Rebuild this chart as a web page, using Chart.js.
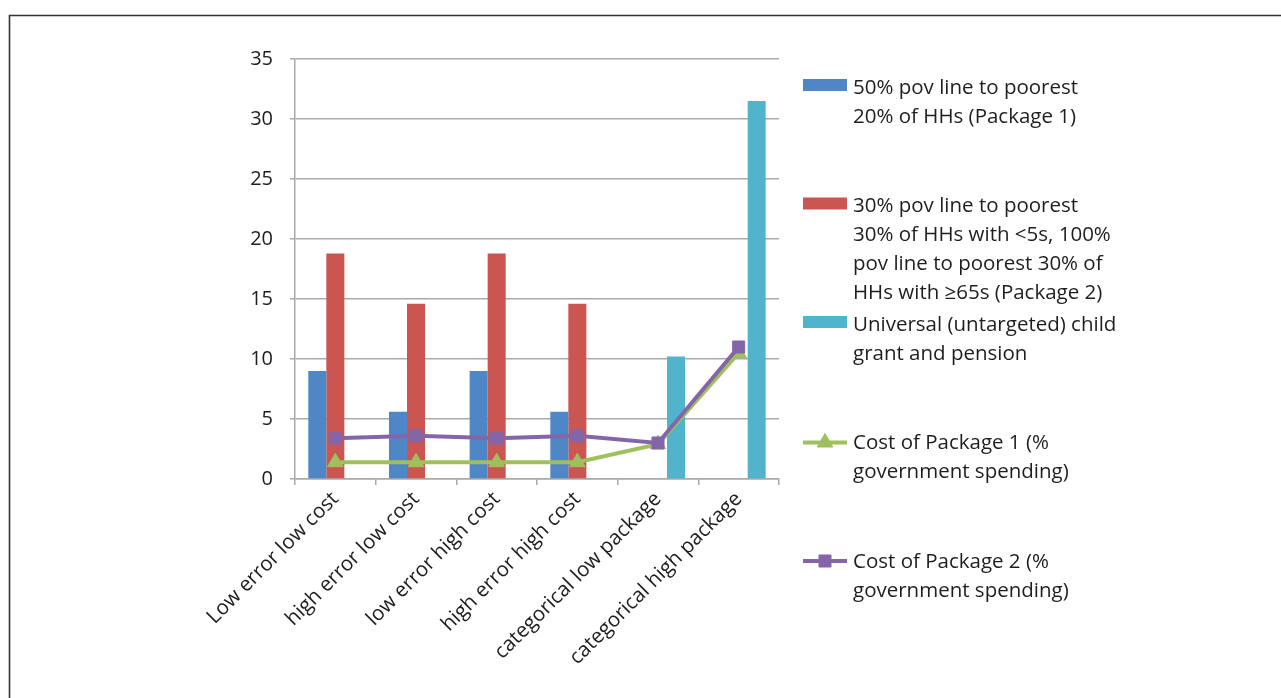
<!DOCTYPE html>
<html>
<head>
<meta charset="utf-8">
<script src="https://cdn.jsdelivr.net/npm/chart.js@4.4.1/dist/chart.umd.min.js"></script>
<style>
  html, body { margin: 0; padding: 0; background: #ffffff; }
  #wrap { position: relative; width: 1281px; height: 698px; overflow: hidden; }
  canvas { display: block; }
</style>
</head>
<body>
<div id="wrap"><canvas id="chart" width="1281" height="698"></canvas></div>
<script>
// Scenario categories along the x axis
const categories = [
  'Low error low cost',
  'high error low cost',
  'low error high cost',
  'high error high cost',
  'categorical low package',
  'categorical high package'
];

// Bar series
const package1Transfer = [9.0, 5.6, 9.0, 5.6, null, null];
const package2Transfer = [18.8, 14.6, 18.8, 14.6, null, null];
const universalTransfer = [null, null, null, null, 10.2, 31.5];

// Line series
const package1Cost = [1.4, 1.4, 1.4, 1.4, 2.9, 10.5];
const package2Cost = [3.4, 3.6, 3.4, 3.6, 3.0, 11.0];

// Value axis
const yMin = 0;
const yMax = 35;
const yStep = 5;

// Legend text, one array of lines per series
const legendPackage1 = ['50% pov line to poorest', '20% of HHs (Package 1)'];
const legendPackage2 = ['30% pov line to poorest', '30% of HHs with <5s, 100%', 'pov line to poorest 30% of', 'HHs with \u226565s (Package 2)'];
const legendUniversal = ['Universal (untargeted) child', 'grant and pension'];
const legendCost1 = ['Cost of Package 1 (%', 'government spending)'];
const legendCost2 = ['Cost of Package 2 (%', 'government spending)'];

const FONT = '"Open Sans", "DejaVu Sans", sans-serif';
const TEXT = '#1e1e1e';
const GRID = '#a9a9a9';

const BLUE = '#4f86c6';
const RED = '#cb5551';
const CYAN = '#4fb4cc';
const GREEN = '#9fc05c';
const PURPLE = '#8466a8';

// Outer frame: top and left edges of the figure box
const framePlugin = {
  id: 'frame',
  beforeDraw(chart) {
    const ctx = chart.ctx;
    ctx.save();
    ctx.strokeStyle = '#333333';
    ctx.lineWidth = 1.6;
    ctx.beginPath();
    ctx.moveTo(9.5, chart.height);
    ctx.lineTo(9.5, 15.5);
    ctx.lineTo(chart.width, 15.5);
    ctx.stroke();
    ctx.restore();
  }
};

// Legend on the right, each entry in an equal-height slot
const sideLegend = {
  id: 'sideLegend',
  afterDraw(chart) {
    const ctx = chart.ctx;
    const x0 = 803, swW = 44, textX = 853;
    const firstY = 88, slot = 118.5, lineH = 29;
    ctx.save();
    ctx.font = '20.5px ' + FONT;
    ctx.textBaseline = 'middle';
    ctx.textAlign = 'left';
    chart.data.datasets.forEach((ds) => {
      const cy = firstY + ds.legendIndex * slot;
      if (ds.type === 'line') {
        ctx.strokeStyle = ds.borderColor;
        ctx.lineWidth = 4;
        ctx.beginPath();
        ctx.moveTo(x0, cy - 1);
        ctx.lineTo(x0 + swW, cy - 1);
        ctx.stroke();
        ctx.fillStyle = ds.backgroundColor;
        ctx.strokeStyle = ds.borderColor;
        ctx.lineWidth = 1;
        Chart.helpers.drawPoint(ctx, {
          pointStyle: ds.pointStyle,
          radius: ds.pointRadius,
          borderWidth: 1
        }, x0 + swW / 2, cy - 1);
      } else {
        ctx.fillStyle = ds.backgroundColor;
        ctx.fillRect(x0, cy - 9, swW, 12);
      }
      ctx.fillStyle = TEXT;
      ds.legendLines.forEach((ln, k) => {
        ctx.fillText(ln, textX, cy + k * lineH);
      });
    });
    ctx.restore();
  }
};

new Chart(document.getElementById('chart'), {
  data: {
    labels: categories,
    datasets: [
      {
        type: 'bar', label: legendPackage1.join(' '), legendLines: legendPackage1, legendIndex: 0,
        data: package1Transfer, backgroundColor: BLUE, order: 3,
        categoryPercentage: 0.67, barPercentage: 1.0
      },
      {
        type: 'bar', label: legendPackage2.join(' '), legendLines: legendPackage2, legendIndex: 1,
        data: package2Transfer, backgroundColor: RED, order: 3,
        categoryPercentage: 0.67, barPercentage: 1.0
      },
      {
        type: 'bar', label: legendUniversal.join(' '), legendLines: legendUniversal, legendIndex: 2,
        data: universalTransfer, backgroundColor: CYAN, order: 3,
        categoryPercentage: 0.67, barPercentage: 1.0
      },
      {
        type: 'line', label: legendCost1.join(' '), legendLines: legendCost1, legendIndex: 3,
        data: package1Cost, borderColor: GREEN, backgroundColor: GREEN,
        borderWidth: 4, pointStyle: 'triangle', pointRadius: 9, pointBorderWidth: 1,
        tension: 0, order: 2
      },
      {
        type: 'line', label: legendCost2.join(' '), legendLines: legendCost2, legendIndex: 4,
        data: package2Cost, borderColor: PURPLE, backgroundColor: PURPLE,
        borderWidth: 4, pointStyle: 'rect', pointRadius: 8.5, pointBorderWidth: 1,
        tension: 0, order: 1
      }
    ]
  },
  options: {
    responsive: false,
    animation: false,
    events: [],
    layout: { padding: { left: 0, top: 59, right: 502, bottom: 0 } },
    plugins: {
      legend: { display: false },
      tooltip: { enabled: false },
      title: { display: false }
    },
    scales: {
      x: {
        type: 'category',
        offset: true,
        grid: {
          offset: true, drawOnChartArea: false, drawTicks: true,
          tickLength: 6, color: GRID, lineWidth: 1.5
        },
        border: { display: true, color: GRID, width: 1.5 },
        ticks: {
          autoSkip: false, maxRotation: 45, minRotation: 45, padding: 2,
          color: TEXT, font: { family: FONT, size: 20.5 }
        },
        afterFit(scale) { scale.height = 219; }
      },
      y: {
        min: yMin, max: yMax,
        grid: { color: GRID, lineWidth: 1.5, tickLength: 5, drawTicks: true },
        border: { display: true, color: GRID, width: 1.5 },
        ticks: {
          stepSize: yStep, padding: 17,
          color: TEXT, font: { family: FONT, size: 20 }
        },
        afterFit(scale) { scale.width = 295; }
      }
    }
  },
  plugins: [framePlugin, sideLegend]
});
</script>
</body>
</html>
